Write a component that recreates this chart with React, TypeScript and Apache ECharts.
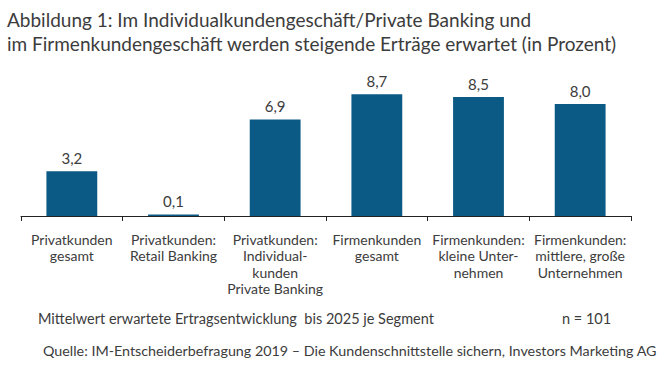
import React, { useEffect, useRef } from "react";
import * as echarts from "echarts";

const categories = [
  "Privatkunden\ngesamt",
  "Privatkunden:\nRetail Banking",
  "Privatkunden:\nIndividual-\nkunden\nPrivate Banking",
  "Firmenkunden\ngesamt",
  "Firmenkunden:\nkleine Unter-\nnehmen",
  "Firmenkunden:\nmittlere, große\nUnternehmen",
];
const values = [3.2, 0.1, 6.9, 8.7, 8.5, 8.0];

const titleLines = [
  "Abbildung 1: Im Individualkundengeschäft/Private Banking und",
  "im Firmenkundengeschäft werden steigende Erträge erwartet (in Prozent)",
];
const noteText = "Mittelwert erwartete Ertragsentwicklung  bis 2025 je Segment";
const nText = "n = 101";
const sourceText =
  "Quelle: IM-Entscheiderbefragung 2019 – Die Kundenschnittstelle sichern, Investors Marketing AG";

const FONT = "Lato, 'Noto Sans', sans-serif";
const TEXT = "#3c3c3c";

export default function App() {
  const ref = useRef<HTMLDivElement>(null);
  useEffect(() => {
    document.body.style.margin = "0";
    if (!ref.current) return;
    const chart = echarts.init(ref.current, null, { renderer: "svg" });
    chart.setOption({
      animation: false,
      backgroundColor: "#ffffff",
      textStyle: { fontFamily: FONT, color: TEXT },
      grid: { left: 21, right: 29, top: 76, bottom: 154 },
      graphic: [
        {
          type: "text",
          left: 7,
          top: 7,
          style: {
            text: titleLines.join("\n"),
            font: `19px ${FONT}`,
            lineHeight: 24,
            fill: TEXT,
          },
        },
        {
          type: "text",
          left: 38,
          top: 311,
          style: { text: noteText, font: `14.5px ${FONT}`, fill: TEXT },
        },
        {
          type: "text",
          left: 562,
          top: 311,
          style: { text: nText, font: `14.5px ${FONT}`, fill: TEXT },
        },
        {
          type: "text",
          left: 43,
          top: 343,
          style: { text: sourceText, font: `14.3px ${FONT}`, fill: TEXT },
        },
      ],
      xAxis: {
        type: "category",
        data: categories,
        boundaryGap: true,
        axisLine: { lineStyle: { color: "#222", width: 1 } },
        axisTick: { show: true, alignWithLabel: false, length: 5, lineStyle: { color: "#222" } },
        axisLabel: {
          interval: 0,
          color: TEXT,
          fontFamily: FONT,
          fontSize: 14,
          lineHeight: 16.5,
          margin: 15,
          align: "center",
        },
      },
      yAxis: {
        type: "value",
        min: 0,
        max: 10,
        show: false,
        splitLine: { show: false },
      },
      series: [
        {
          type: "bar",
          data: values,
          barWidth: "50%",
          itemStyle: { color: "#0b5a85" },
          label: {
            show: true,
            position: "top",
            distance: 6,
            color: TEXT,
            fontFamily: FONT,
            fontSize: 15,
            formatter: (p: any) => Number(p.value).toFixed(1).replace(".", ","),
          },
        },
      ],
    });
    return () => chart.dispose();
  }, []);
  return <div ref={ref} style={{ width: 660, height: 370 }} />;
}
